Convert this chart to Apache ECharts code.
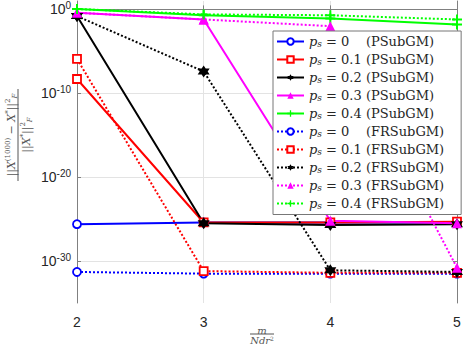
<!DOCTYPE html>
<html>
<head>
<meta charset="utf-8">
<script src="https://cdn.jsdelivr.net/npm/echarts@6/dist/echarts.min.js"></script>
<style>
  html, body { margin: 0; padding: 0; background: #fff; }
  #chart { width: 464px; height: 346px; }
</style>
</head>
<body>
<div id="chart"></div>
<script>
// x values: m / (N d r^2)
const ratios = [2, 3, 4, 5];
// log10 of the relative error
const psub0 = [-25.6, -25.4, -25.4, -25.4];
const psub1 = [-8.3, -25.4, -25.4, -25.3];
const psub2 = [-0.8, -25.5, -25.7, -25.6];
const psub3 = [-0.4, -1.2, -25.2, -25.5];
const psub4 = [0.05, -0.7, -1.1, -1.8];
const frsub0 = [-31.3, -31.5, -31.5, -31.5];
const frsub1 = [-5.9, -31.2, -31.4, -31.4];
const frsub2 = [-0.8, -7.4, -31.1, -31.3];
const frsub3 = [-0.4, -1.2, -2.0, -30.8];
const frsub4 = [0.05, -0.6, -0.7, -1.2];
const psValues = ['0', '0.1', '0.2', '0.3', '0.4'];
const yTicks = [0, -10, -20, -30];

const colors = ['#0000ff', '#ff0000', '#000000', '#ff00ff', '#00ff00'];

function hexagram() {
  let d = 'path://';
  for (let i = 0; i < 12; i++) {
    const r = i % 2 === 0 ? 10 : 5.8;
    const a = Math.PI / 2 + i * Math.PI / 6;
    d += (i === 0 ? 'M' : 'L') + (10 + r * Math.cos(a)).toFixed(2) + ',' + (10 - r * Math.sin(a)).toFixed(2);
  }
  return d + 'Z';
}
const plusPath = 'path://M4,0H6V4H10V6H6V10H4V6H0V4H4Z';

const markers = [
  {symbol: 'circle', size: 8, fill: '#fff'},
  {symbol: 'rect', size: 8, fill: '#fff'},
  {symbol: hexagram(), size: 12, fill: null},
  {symbol: 'triangle', size: 10, fill: null},
  {symbol: plusPath, size: 10, fill: null},
];

function makeSeries(values, k, alg, dotted) {
  const m = markers[k];
  return {
    name: 'ps' + psValues[k] + alg,
    type: 'line',
    data: ratios.map((x, i) => [x, values[i]]),
    symbol: m.symbol,
    symbolSize: m.size,
    showAllSymbol: true,
    lineStyle: {color: colors[k], width: 2, type: dotted ? [2, 2] : 'solid'},
    itemStyle: {color: m.fill || colors[k], borderColor: colors[k], borderWidth: m.fill ? 1.8 : 0},
    emphasis: {disabled: true},
    animation: false,
  };
}

const series = [
  makeSeries(psub0, 0, 'P', false),
  makeSeries(psub1, 1, 'P', false),
  makeSeries(psub2, 2, 'P', false),
  makeSeries(psub3, 3, 'P', false),
  makeSeries(psub4, 4, 'P', false),
  makeSeries(frsub0, 0, 'F', true),
  makeSeries(frsub1, 1, 'F', true),
  makeSeries(frsub2, 2, 'F', true),
  makeSeries(frsub3, 3, 'F', true),
  makeSeries(frsub4, 4, 'F', true),
];

const axisColor = '#808080';
const labelFont = '"Liberation Sans", Arial, sans-serif';
const serif = '"DejaVu Serif", serif';
const labelGray = '#555';

const fracRich = {
  a: {fontFamily: serif, fontSize: 11, fill: labelGray, lineHeight: 14},
  x: {fontFamily: serif, fontSize: 11, fontStyle: 'italic', fill: labelGray, lineHeight: 14},
  u: {fontFamily: serif, fontSize: 7, fill: labelGray, lineHeight: 8, verticalAlign: 'top'},
  d: {fontFamily: serif, fontSize: 7, fontStyle: 'italic', fill: labelGray, lineHeight: 6, verticalAlign: 'bottom'},
};

const chart = echarts.init(document.getElementById('chart'), null, {renderer: 'svg'});
chart.setOption({
  animation: false,
  grid: {left: 77, right: 7, top: 1, bottom: 43},
  xAxis: [{
    type: 'value', min: 2, max: 5, interval: 1,
    axisLine: {lineStyle: {color: axisColor}},
    axisTick: {inside: true, length: 4, lineStyle: {color: axisColor}},
    axisLabel: {color: '#262626', fontFamily: labelFont, fontSize: 14, margin: 12},
    splitLine: {show: true, lineStyle: {color: '#e3e3e3'}},
  }, {
    type: 'value', min: 2, max: 5, interval: 1, position: 'top',
    axisLine: {lineStyle: {color: axisColor}},
    axisTick: {inside: true, length: 4, lineStyle: {color: axisColor}},
    axisLabel: {show: false},
    splitLine: {show: false},
  }],
  yAxis: [{
    type: 'value', min: -35, max: 1,
    axisLine: {show: true, lineStyle: {color: axisColor}},
    axisTick: {show: true, inside: true, length: 4, customValues: yTicks, lineStyle: {color: axisColor}},
    axisLabel: {
      customValues: yTicks, margin: 6,
      formatter: v => '{b|10}{s|' + (v === 0 ? '0' : String(v)) + '}',
      rich: {
        b: {fontFamily: labelFont, fontSize: 14, color: '#262626', lineHeight: 18},
        s: {fontFamily: labelFont, fontSize: 10, color: '#262626', lineHeight: 10, verticalAlign: 'top'},
      },
    },
    splitLine: {show: true, lineStyle: {color: '#e3e3e3'}},
  }, {
    type: 'value', min: -35, max: 1, position: 'right',
    axisLine: {show: true, lineStyle: {color: axisColor}},
    axisTick: {show: true, inside: true, length: 4, customValues: yTicks, lineStyle: {color: axisColor}},
    axisLabel: {show: false},
    splitLine: {show: false},
  }],
  legend: {
    orient: 'vertical', left: 273, top: 31,
    padding: [4, 17, 4, 3],
    itemWidth: 27, itemHeight: 8, itemGap: 4.5,
    backgroundColor: '#fff', borderColor: '#777', borderWidth: 1,
    formatter: name => {
      const ps = name.slice(2, -1);
      const alg = name.slice(-1) === 'P' ? '(PSubGM)' : '(FRSubGM)';
      const pad = ps === '0' ? '    ' : ' ';
      return '{p|p}{s|s}{t| = ' + ps + pad + alg + '}';
    },
    textStyle: {
      rich: {
        p: {fontFamily: serif, fontStyle: 'italic', fontSize: 13, color: '#262626', lineHeight: 14},
        s: {fontFamily: serif, fontStyle: 'italic', fontSize: 9, color: '#262626', lineHeight: 8, verticalAlign: 'bottom'},
        t: {fontFamily: serif, fontSize: 13, color: '#262626', lineHeight: 14},
      },
    },
  },
  graphic: [{
    type: 'group', x: 18, y: 135, rotation: Math.PI / 2,
    children: [{
      type: 'text', x: 0, y: -7,
      style: {
        text: '{a|||}{x|X}{u|(1000)}{a| \u2212 }{x|X}{u|*}{a|||}{u|2}{d|F}',
        align: 'center', verticalAlign: 'middle', rich: fracRich,
      },
    }, {
      type: 'line', shape: {x1: -46, y1: 0, x2: 46, y2: 0},
      style: {stroke: labelGray, lineWidth: 1},
    }, {
      type: 'text', x: 0, y: 8,
      style: {
        text: '{a|||}{x|X}{u|*}{a|||}{u|2}{d|F}',
        align: 'center', verticalAlign: 'middle', rich: fracRich,
      },
    }],
  }, {
    type: 'group', x: 262, y: 334,
    children: [{
      type: 'text', x: 0, y: -4,
      style: {text: 'm', font: 'italic 10px ' + serif, fill: labelGray, align: 'center', verticalAlign: 'middle'},
    }, {
      type: 'line', shape: {x1: -12, y1: 0, x2: 12, y2: 0},
      style: {stroke: labelGray, lineWidth: 1},
    }, {
      type: 'text', x: 0, y: 6,
      style: {
        text: '{i|Ndr}{u|2}', align: 'center', verticalAlign: 'middle',
        rich: {
          i: {fontFamily: serif, fontSize: 10, fontStyle: 'italic', fill: labelGray, lineHeight: 10},
          u: {fontFamily: serif, fontSize: 6, fill: labelGray, lineHeight: 6, verticalAlign: 'top'},
        },
      },
    }],
  }],
  series: series,
});
</script>
</body>
</html>
